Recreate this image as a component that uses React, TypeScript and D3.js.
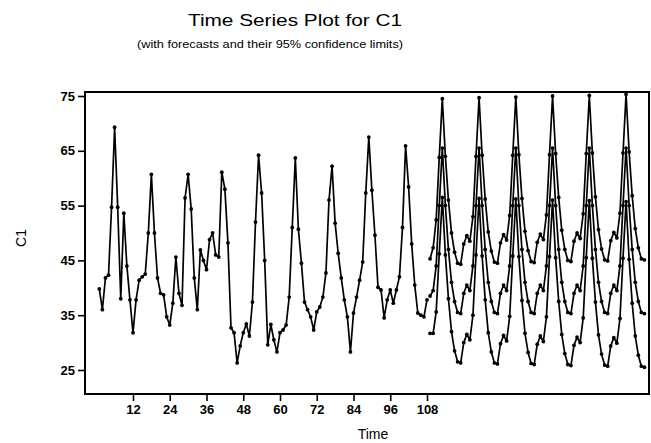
import * as d3 from "d3";
import React, { useEffect, useRef } from "react";

// observed series C1, t = 1..108
const observed = [
  39.8, 36.0, 41.8, 42.3, 54.7, 69.3, 54.7, 38.0, 53.6, 44.0, 37.8, 31.8,
  37.8, 41.4, 42.0, 42.5, 50.0, 60.7, 50.0, 41.8, 39.0, 38.7, 34.7, 33.2,
  37.2, 45.6, 39.0, 36.8, 56.4, 60.7, 54.4, 41.8, 36.0, 46.9, 45.0, 43.3,
  48.8, 50.0, 46.0, 45.6, 61.1, 58.0, 48.2, 32.7, 31.8, 26.3, 29.4, 31.8,
  33.4, 31.2, 37.4, 52.0, 64.2, 57.3, 45.0, 29.6, 33.3, 30.5, 28.3, 31.8,
  32.3, 33.2, 38.3, 51.0, 63.7, 50.7, 44.5, 37.4, 36.0, 34.7, 32.3, 35.6,
  36.5, 38.3, 42.7, 56.0, 62.2, 51.8, 46.3, 41.8, 37.8, 34.7, 28.3, 35.4,
  38.3, 41.4, 44.7, 57.3, 67.5, 57.8, 49.6, 40.1, 39.6, 34.5, 37.8, 39.6,
  37.2, 39.6, 42.0, 51.0, 65.9, 58.4, 48.0, 40.5, 35.4, 35.0, 34.7, 37.8,
];

// forecasts, t = 109..179
const forecast = [
  38.5, 39.5, 44.0, 55.0,
  65.5, 55.0, 47.0, 41.0, 37.5, 35.5, 35.3, 39.0, 40.5, 39.5, 44.0, 55.0,
  65.5, 55.0, 47.0, 41.0, 37.5, 35.5, 35.3, 39.0, 40.5, 39.5, 44.0, 55.0,
  65.5, 55.0, 47.0, 41.0, 37.5, 35.5, 35.3, 39.0, 40.5, 39.5, 44.0, 55.0,
  65.5, 55.0, 47.0, 41.0, 37.5, 35.5, 35.3, 39.0, 40.5, 39.5, 44.0, 55.0,
  65.5, 55.0, 47.0, 41.0, 37.5, 35.5, 35.3, 39.0, 40.5, 39.5, 44.0, 55.0,
  65.5, 55.0, 47.0, 41.0, 37.5, 35.5, 35.3,
];

const upper = [
  45.3, 47.3, 52.4, 63.8,
  74.5, 64.0, 56.0, 50.0, 46.5, 44.5, 44.3, 48.0, 49.5, 48.5, 53.0, 64.0,
  74.7, 64.2, 56.2, 50.2, 46.7, 44.7, 44.5, 48.2, 49.7, 48.7, 53.2, 64.2,
  74.8, 64.3, 56.3, 50.3, 46.8, 44.8, 44.6, 48.3, 49.8, 48.8, 53.3, 64.3,
  75.0, 64.5, 56.5, 50.5, 47.0, 45.0, 44.8, 48.5, 50.0, 49.0, 53.5, 64.5,
  75.1, 64.6, 56.6, 50.6, 47.1, 45.1, 44.9, 48.6, 50.1, 49.1, 53.6, 64.6,
  75.3, 64.8, 56.8, 50.8, 47.3, 45.3, 45.1,
];

const lower = [
  31.7, 31.7, 35.6, 46.2,
  56.5, 46.0, 38.0, 32.0, 28.5, 26.5, 26.3, 30.0, 31.5, 30.5, 35.0, 46.0,
  56.3, 45.8, 37.8, 31.8, 28.3, 26.3, 26.1, 29.8, 31.3, 30.3, 34.8, 45.8,
  56.2, 45.7, 37.7, 31.7, 28.2, 26.2, 26.0, 29.7, 31.2, 30.2, 34.7, 45.7,
  56.0, 45.5, 37.5, 31.5, 28.0, 26.0, 25.8, 29.5, 31.0, 30.0, 34.5, 45.5,
  55.9, 45.4, 37.4, 31.4, 27.9, 25.9, 25.7, 29.4, 30.9, 29.9, 34.4, 45.4,
  55.7, 45.2, 37.2, 31.2, 27.7, 25.7, 25.5,
];

const yTicks = [25, 35, 45, 55, 65, 75];
const xTicks = [12, 24, 36, 48, 60, 72, 84, 96, 108];

const W = 651;
const H = 443;
const frame = { left: 85, right: 649, top: 92, bottom: 394 };

function drawChart(node: SVGSVGElement) {
  const svg = d3.select(node);
  svg.selectAll("*").remove();

  // t=12 -> 133, t=108 -> 427
  const x = d3.scaleLinear().domain([12, 108]).range([133, 427]);
  const y = d3.scaleLinear().domain([25, 75]).range([370, 96]);

  const font = "Liberation Sans, Arial, sans-serif";

  // frame
  svg
    .append("rect")
    .attr("x", frame.left)
    .attr("y", frame.top)
    .attr("width", frame.right - frame.left)
    .attr("height", frame.bottom - frame.top)
    .attr("fill", "none")
    .attr("stroke", "#000")
    .attr("stroke-width", 2);

  // y axis
  const yAxis = d3.axisLeft(y).tickValues(yTicks).tickSize(7).tickSizeOuter(0).tickPadding(3);
  const gy = svg.append("g").attr("transform", `translate(${frame.left},0)`).call(yAxis);
  gy.select(".domain").remove();
  gy.selectAll("line").attr("stroke-width", 1.6);
  gy.selectAll("text")
    .attr("font-family", font)
    .attr("font-size", 13)
    .attr("font-weight", 600)
    .attr("fill", "#000");

  // x axis
  const xAxis = d3.axisBottom(x).tickValues(xTicks).tickSize(7).tickSizeOuter(0).tickPadding(4);
  const gx = svg.append("g").attr("transform", `translate(0,${frame.bottom})`).call(xAxis);
  gx.select(".domain").remove();
  gx.selectAll("line").attr("stroke-width", 1.6);
  gx.selectAll("text")
    .attr("font-family", font)
    .attr("font-size", 13)
    .attr("font-weight", 600)
    .attr("fill", "#000");

  // series
  const line = d3
    .line<[number, number]>()
    .x(d => x(d[0]))
    .y(d => y(d[1]));

  const obs: [number, number][] = observed.map((v, i) => [i + 1, v]);
  const n = observed.length;
  const series = [
    obs,
    forecast.map((v, i) => [n + 1 + i, v] as [number, number]),
    upper.map((v, i) => [n + 1 + i, v] as [number, number]),
    lower.map((v, i) => [n + 1 + i, v] as [number, number]),
  ];

  series.forEach(s => {
    svg
      .append("path")
      .attr("d", line(s))
      .attr("fill", "none")
      .attr("stroke", "#000")
      .attr("stroke-width", 1.7)
      .attr("stroke-linejoin", "round");
    svg
      .append("g")
      .selectAll("circle")
      .data(s)
      .join("circle")
      .attr("cx", d => x(d[0]))
      .attr("cy", d => y(d[1]))
      .attr("r", 1.9)
      .attr("fill", "#000");
  });

  // titles
  svg
    .append("text")
    .attr("x", 295)
    .attr("y", 26)
    .attr("text-anchor", "middle")
    .attr("font-family", font)
    .attr("font-size", 16)
    .attr("textLength", 214)
    .attr("lengthAdjust", "spacingAndGlyphs")
    .text("Time Series Plot for C1");
  svg
    .append("text")
    .attr("x", 270)
    .attr("y", 48)
    .attr("text-anchor", "middle")
    .attr("font-family", font)
    .attr("font-size", 11)
    .attr("textLength", 266)
    .attr("lengthAdjust", "spacingAndGlyphs")
    .text("(with forecasts and their 95% confidence limits)");

  svg
    .append("text")
    .attr("x", 373)
    .attr("y", 439)
    .attr("text-anchor", "middle")
    .attr("font-family", font)
    .attr("font-size", 14)
    .text("Time");

  svg
    .append("text")
    .attr("transform", `translate(26,238) rotate(-90)`)
    .attr("text-anchor", "middle")
    .attr("font-family", font)
    .attr("font-size", 14)
    .text("C1");
}

export default function App() {
  const ref = useRef<SVGSVGElement>(null);

  useEffect(() => {
    if (ref.current) drawChart(ref.current);
  }, []);

  return (
    <div style={{ position: "absolute", left: 0, top: 0, background: "#fff" }}>
      <svg ref={ref} width={W} height={H} style={{ display: "block" }} />
    </div>
  );
}
